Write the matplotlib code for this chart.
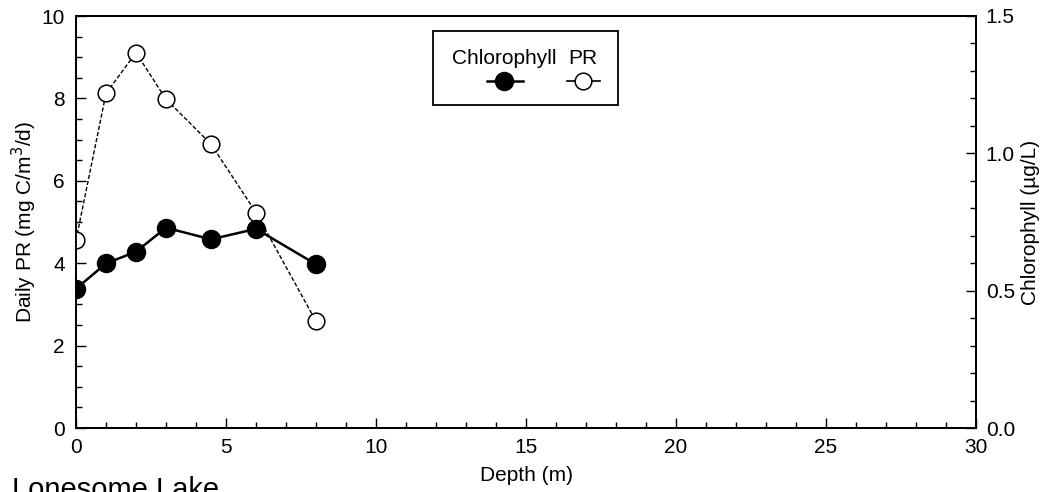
import matplotlib
matplotlib.use("Agg")
import matplotlib.pyplot as plt
import matplotlib.patches as mpatches
from matplotlib.lines import Line2D
from matplotlib.ticker import MultipleLocator

plt.rcParams['font.family'] = ['Liberation Sans', 'DejaVu Sans']

# data
depth = [0, 1, 2, 3, 4.5, 6, 8]
pr = [4.56, 8.12, 9.11, 7.98, 6.89, 5.23, 2.59]
chlorophyll = [0.507, 0.599, 0.642, 0.729, 0.687, 0.725, 0.596]

x_ticks = [0, 5, 10, 15, 20, 25, 30]
pr_ticks = [0, 2, 4, 6, 8, 10]
chl_ticks = [0.0, 0.5, 1.0, 1.5]

W, H = 1047, 492
fig = plt.figure(figsize=(W / 100, H / 100), dpi=100)
ax = fig.add_axes([76 / W, 1 - 428 / H, (976 - 76) / W, (428 - 16) / H])
ax2 = ax.twinx()

ax.plot(depth, pr, color='black', lw=1.0, linestyle=(0, (3, 1.5)), marker='o', ms=12,
        mfc='white', mec='black', mew=1.1, zorder=3)
ax2.plot(depth, chlorophyll, color='black', lw=1.8, marker='o', ms=13,
         mfc='black', mec='black', zorder=4)

ax.set_xlim(0, 30)
ax.set_ylim(0, 10)
ax2.set_ylim(0, 1.5)
ax.set_xticks(x_ticks)
ax.set_yticks(pr_ticks)
ax2.set_yticks(chl_ticks)
ax2.set_yticklabels([f"{v:.1f}" for v in chl_ticks])
ax.xaxis.set_minor_locator(MultipleLocator(1))
ax.yaxis.set_minor_locator(MultipleLocator(0.5))
ax2.yaxis.set_minor_locator(MultipleLocator(0.1))

for a in (ax, ax2):
    a.tick_params(which='both', direction='in', labelsize=15, width=1)
    a.tick_params(which='major', length=7)
    a.tick_params(which='minor', length=4)
    for s in a.spines.values():
        s.set_linewidth(1.3)
ax.tick_params(axis='x', pad=7)
ax.tick_params(axis='y', pad=8)
ax2.tick_params(axis='y', pad=7)

ax.set_xlabel("Depth (m)", fontsize=15, labelpad=7)
ax.set_ylabel("Daily PR (mg C/m$^3$/d)", fontsize=15)
ax.yaxis.set_label_coords(-37 / 900, 0.5)
ax2.set_ylabel("Chlorophyll (µg/L)", fontsize=15)
ax2.yaxis.set_label_coords(1 + 45 / 900, 0.5)

# legend box with labels above the symbols
box = mpatches.Rectangle((433 / W, 1 - 105 / H), 185 / W, 74 / H,
                         transform=fig.transFigure, facecolor='white',
                         edgecolor='black', lw=1.3, zorder=5)
fig.patches.append(box)
fig.text(504 / W, 1 - 59 / H, "Chlorophyll", ha='center', va='center', fontsize=15, zorder=6)
fig.text(583 / W, 1 - 59 / H, "PR", ha='center', va='center', fontsize=15, zorder=6)
fig.lines.append(Line2D([487 / W, 523 / W], [1 - 81 / H, 1 - 81 / H], transform=fig.transFigure,
                        color='black', lw=1.8, zorder=6))
fig.lines.append(Line2D([504 / W], [1 - 81 / H], transform=fig.transFigure, marker='o', ms=13,
                        mfc='black', mec='black', zorder=7))
fig.lines.append(Line2D([567 / W, 600 / W], [1 - 81 / H, 1 - 81 / H], transform=fig.transFigure,
                        color='black', lw=1.2, zorder=6))
fig.lines.append(Line2D([583 / W], [1 - 81 / H], transform=fig.transFigure, marker='o', ms=12,
                        mfc='white', mec='black', mew=1.1, zorder=7))

fig.text(12 / W, 1 - 476 / H, "Lonesome Lake", ha='left', va='top', fontsize=21)

fig.savefig("out.png", dpi=100)
